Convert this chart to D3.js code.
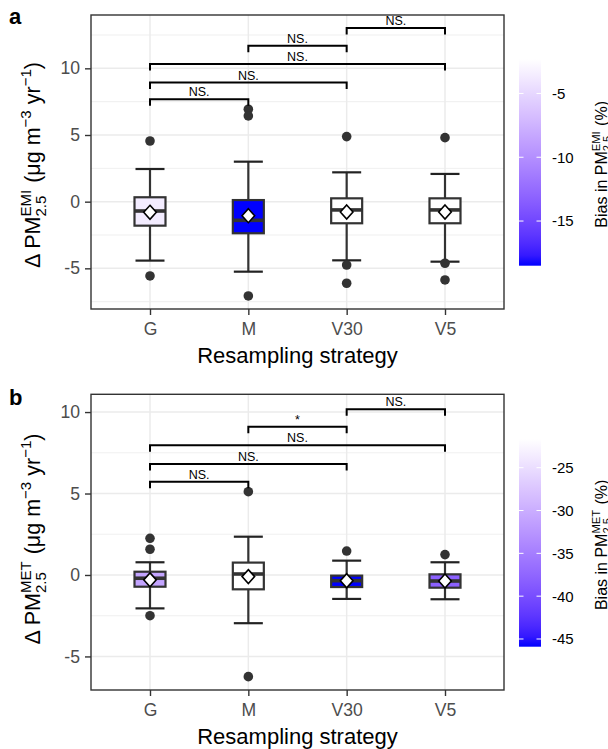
<!DOCTYPE html>
<html>
<head>
<meta charset="utf-8">
<script src="https://cdn.jsdelivr.net/npm/d3@7"></script>
<style>
  body { margin: 0; background: #fff; }
  svg { display: block; font-family: "Liberation Sans", Arial, sans-serif; }
  svg text { white-space: pre; }
</style>
</head>
<body>
<script>
// ---- data ----
var strategies = ["G", "M", "V30", "V5"];

// panel a : emission driven change
var emiLower   = [-4.42, -5.25, -4.40, -4.50];
var emiQ1      = [-1.80, -2.37, -1.62, -1.62];
var emiMedian  = [-0.70, -1.40, -0.62, -0.62];
var emiQ3      = [ 0.33,  0.12,  0.25,  0.25];
var emiUpper   = [ 2.45,  3.00,  2.20,  2.08];
var emiMean    = [-0.80, -1.05, -0.77, -0.77];
var emiOutliers = [[4.55, -5.57], [6.93, 6.43, -7.07], [4.88, -4.75, -6.12], [4.80, -4.62, -5.87]];
var emiBias    = [-3.6, -18.5, -2.3, -2.4];
var emiBiasTicks = [-15, -10, -5];

// panel b : meteorology driven change
var metLower   = [-2.05, -2.96, -1.47, -1.49];
var metQ1      = [-0.72, -0.88, -0.74, -0.78];
var metMedian  = [-0.20,  0.06, -0.35, -0.37];
var metQ3      = [ 0.20,  0.76, -0.04,  0.04];
var metUpper   = [ 0.78,  2.35,  0.88,  0.78];
var metMean    = [-0.30, -0.10, -0.35, -0.37];
var metOutliers = [[2.25, 1.58, -2.50], [5.11, -6.24], [1.47], [1.25]];
var metBias    = [-31, -21.65, -45.9, -38];
var metBiasTicks = [-45, -40, -35, -30, -25];

// significance brackets
var pairs = [["G", "M"], ["G", "V30"], ["G", "V5"], ["M", "V30"], ["V30", "V5"]];
var emiBracketY = [7.68, 8.93, 10.33, 11.70, 13.03];
var emiSig = ["NS.", "NS.", "NS.", "NS.", "NS."];
var metBracketY = [5.72, 6.81, 7.96, 9.10, 10.18];
var metSig = ["NS.", "NS.", "NS.", "*", "NS."];

var yTicks = [-5, 0, 5, 10];

var W = 608, H = 749;
var FONT = "'Liberation Sans', Arial, sans-serif";
var svg = d3.select("body").append("svg").attr("width", W).attr("height", H);

// plotmath-ish label: pieces laid out left to right, stacked sup/sub
function mathLabel(parent, pieces, fs, color) {
  var outer = parent.append("g");
  var g = outer.append("g");
  var x = 0;
  function put(t, size, shift) {
    var el = g.append("text").attr("x", x).attr("y", shift)
      .attr("font-size", size).attr("fill", color).text(t);
    return el.node().getComputedTextLength();
  }
  pieces.forEach(function (p) {
    if (typeof p === "string") {
      x += put(p, fs, 0);
    } else {
      var w1 = p.sup ? put(p.sup, fs * 0.7, -fs * 0.42) : 0;
      var w2 = p.sub ? put(p.sub, fs * 0.7, fs * 0.28) : 0;
      x += Math.max(w1, w2) + (p.gap || 0);
    }
  });
  g.attr("transform", "translate(" + (-x / 2) + ",0)");
  return outer;
}

function drawPanel(cfg) {
  var top = cfg.top, bottom = cfg.bottom, left = 91, right = 504;
  var x = d3.scalePoint().domain(strategies).range([left, right]).padding(0.6);
  var y = d3.scaleLinear().domain(cfg.yDomain).range([bottom, top]);
  var col = d3.scaleLinear().domain(d3.extent(cfg.bias)).range(["blue", "white"])
    .interpolate(d3.interpolateLab);

  var g = svg.append("g");

  // grid
  var minor = [];
  for (var v = -7.5; v <= 12.5; v += 5) {
    if (v > cfg.yDomain[0] && v < cfg.yDomain[1]) minor.push(v);
  }
  g.selectAll(".gmin").data(minor).enter().append("line")
    .attr("x1", left).attr("x2", right)
    .attr("y1", function (d) { return y(d); }).attr("y2", function (d) { return y(d); })
    .attr("stroke", "#ebebeb").attr("stroke-width", 0.8);
  g.selectAll(".gmaj").data(yTicks).enter().append("line")
    .attr("x1", left).attr("x2", right)
    .attr("y1", function (d) { return y(d); }).attr("y2", function (d) { return y(d); })
    .attr("stroke", "#ebebeb").attr("stroke-width", 1.5);
  g.selectAll(".gx").data(strategies).enter().append("line")
    .attr("x1", function (d) { return x(d); }).attr("x2", function (d) { return x(d); })
    .attr("y1", top).attr("y2", bottom)
    .attr("stroke", "#ebebeb").attr("stroke-width", 1.5);

  // boxplots
  var stats = strategies.map(function (s, i) {
    return { s: s, lo: cfg.lower[i], q1: cfg.q1[i], med: cfg.median[i], q3: cfg.q3[i],
             hi: cfg.upper[i], mean: cfg.mean[i], out: cfg.outliers[i], bias: cfg.bias[i] };
  });
  var bw = 31, cw = 29;
  var box = g.selectAll(".box").data(stats).enter().append("g");
  box.append("line")
    .attr("x1", function (d) { return x(d.s); }).attr("x2", function (d) { return x(d.s); })
    .attr("y1", function (d) { return y(d.lo); }).attr("y2", function (d) { return y(d.hi); })
    .attr("stroke", "#333").attr("stroke-width", 2.2);
  ["lo", "hi"].forEach(function (k) {
    box.append("line")
      .attr("x1", function (d) { return x(d.s) - cw / 2; }).attr("x2", function (d) { return x(d.s) + cw / 2; })
      .attr("y1", function (d) { return y(d[k]); }).attr("y2", function (d) { return y(d[k]); })
      .attr("stroke", "#222").attr("stroke-width", 2.2);
  });
  box.append("rect")
    .attr("x", function (d) { return x(d.s) - bw / 2; }).attr("width", bw)
    .attr("y", function (d) { return y(d.q3); })
    .attr("height", function (d) { return y(d.q1) - y(d.q3); })
    .attr("fill", function (d) { return col(d.bias); })
    .attr("stroke", "#333").attr("stroke-width", 2.2);
  box.append("line")
    .attr("x1", function (d) { return x(d.s) - bw / 2; }).attr("x2", function (d) { return x(d.s) + bw / 2; })
    .attr("y1", function (d) { return y(d.med); }).attr("y2", function (d) { return y(d.med); })
    .attr("stroke", "#333").attr("stroke-width", 3.6);
  box.each(function (d) {
    d3.select(this).selectAll("circle").data(d.out).enter().append("circle")
      .attr("cx", x(d.s)).attr("cy", function (v) { return y(v); })
      .attr("r", 4.8).attr("fill", "#333");
  });
  box.append("path")
    .attr("d", "M0,-7L6.3,0L0,7L-6.3,0Z")
    .attr("transform", function (d) { return "translate(" + x(d.s) + "," + y(d.mean) + ")"; })
    .attr("fill", "#fff").attr("stroke", "#000").attr("stroke-width", 1.6);

  // significance brackets
  var tip = 6.5;
  pairs.forEach(function (p, i) {
    var yy = y(cfg.bracketY[i]), x1 = x(p[0]), x2 = x(p[1]);
    g.append("path")
      .attr("d", "M" + x1 + "," + (yy + tip) + "V" + yy + "H" + x2 + "V" + (yy + tip))
      .attr("fill", "none").attr("stroke", "#000").attr("stroke-width", 2);
    g.append("text").attr("x", (x1 + x2) / 2).attr("y", yy - 3)
      .attr("text-anchor", "middle").attr("font-size", 12.5).attr("fill", "#000")
      .text(cfg.sig[i]);
  });

  // border
  g.append("rect").attr("x", left).attr("y", top)
    .attr("width", right - left).attr("height", bottom - top)
    .attr("fill", "none").attr("stroke", "#333").attr("stroke-width", 1.4);

  // axes
  var ya = g.append("g").attr("transform", "translate(" + left + ",0)")
    .call(d3.axisLeft(y).tickValues(yTicks).tickSize(6).tickPadding(5).tickFormat(d3.format("d")));
  var xa = g.append("g").attr("transform", "translate(0," + bottom + ")")
    .call(d3.axisBottom(x).tickSize(6).tickPadding(8));
  [ya, xa].forEach(function (a) {
    a.select(".domain").remove();
    a.selectAll(".tick line").attr("stroke", "#333").attr("stroke-width", 1.4);
    a.selectAll(".tick text").attr("fill", "#4d4d4d").attr("font-size", 17.6)
      .attr("font-family", FONT).text(function (d) { return String(d); });
  });
  xa.selectAll(".tick text").attr("dy", "0.71em");

  g.append("text").attr("x", (left + right) / 2).attr("y", bottom + 54)
    .attr("text-anchor", "middle").attr("font-size", 22).attr("fill", "#000")
    .text("Resampling strategy");

  mathLabel(g, ["\u0394 PM", { sup: cfg.tag, sub: "2.5", gap: 1 }, " (\u03bcg m",
    { sup: "\u22123" }, " yr", { sup: "\u22121" }, ")"], 21.5, "#000")
    .attr("transform", "translate(40," + cfg.yTitleY + ") rotate(-90)");

  g.append("text").attr("x", 9).attr("y", cfg.labelY)
    .attr("font-size", 22).attr("font-weight", "bold").text(cfg.label);

  // colour bar
  var bx = 519, bwid = 22;
  var by = d3.scaleLinear().domain(d3.extent(cfg.bias)).range([cfg.barBottom, cfg.barTop]);
  var gid = "grad" + cfg.label;
  var grad = svg.append("defs").append("linearGradient").attr("id", gid)
    .attr("x1", 0).attr("y1", 1).attr("x2", 0).attr("y2", 0);
  d3.range(0, 1.0001, 0.05).forEach(function (t) {
    grad.append("stop").attr("offset", t)
      .attr("stop-color", col(col.domain()[0] + t * (col.domain()[1] - col.domain()[0])));
  });
  g.append("rect").attr("x", bx).attr("y", cfg.barTop).attr("width", bwid)
    .attr("height", cfg.barBottom - cfg.barTop).attr("fill", "url(#" + gid + ")");
  cfg.barTicks.forEach(function (t) {
    [[bx, bx + 4.5], [bx + bwid - 4.5, bx + bwid]].forEach(function (seg) {
      g.append("line").attr("x1", seg[0]).attr("x2", seg[1])
        .attr("y1", by(t)).attr("y2", by(t)).attr("stroke", "#fff").attr("stroke-width", 1);
    });
    g.append("text").attr("x", 552).attr("y", by(t)).attr("dy", "0.36em")
      .attr("font-size", 15).attr("fill", "#000").text(String(t));
  });
  mathLabel(g, ["Bias in PM", { sup: cfg.tag, sub: "2.5", gap: 1 }, " (%)"], 16, "#000")
    .attr("transform", "translate(606.5," + ((cfg.barTop + cfg.barBottom) / 2 + 2) + ") rotate(-90)");
}

drawPanel({
  label: "a", labelY: 24, tag: "EMI",
  top: 15, bottom: 309, yDomain: [-8.05, 14.0], yTitleY: 165,
  lower: emiLower, q1: emiQ1, median: emiMedian, q3: emiQ3, upper: emiUpper,
  mean: emiMean, outliers: emiOutliers, bias: emiBias,
  bracketY: emiBracketY, sig: emiSig,
  barTop: 59, barBottom: 265.7, barTicks: emiBiasTicks
});

drawPanel({
  label: "b", labelY: 405, tag: "MET",
  top: 394.3, bottom: 690, yDomain: [-7.06, 11.09], yTitleY: 539,
  lower: metLower, q1: metQ1, median: metMedian, q3: metQ3, upper: metUpper,
  mean: metMean, outliers: metOutliers, bias: metBias,
  bracketY: metBracketY, sig: metSig,
  barTop: 439, barBottom: 646.7, barTicks: metBiasTicks
});
</script>
</body>
</html>
